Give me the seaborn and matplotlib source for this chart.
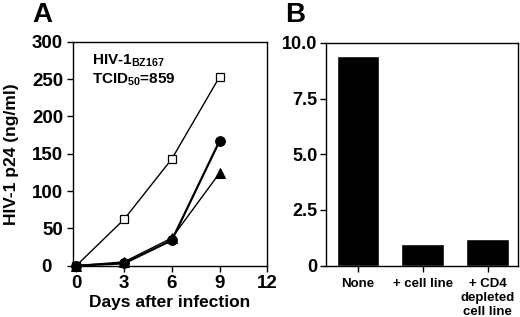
import pandas as pd
import matplotlib
matplotlib.use("Agg")
import matplotlib.pyplot as plt
import seaborn as sns

# Panel A: p24 over time
days = [0, 3, 6, 9]
p24_square = [0, 62, 143, 253]
p24_circle = [0, 3, 34, 167]
p24_triangle = [0, 5, 37, 124]
a_yticks = [0, 50, 100, 150, 200, 250, 300]
a_yticklabels = ['0  ', '50', '100', '150', '200', '250', '300']

# Panel B: bars
conditions = ['None', '+ cell line', '+ CD4\ndepleted\ncell line']
bar_values = [9.4, 0.95, 1.2]
b_yticks = [0, 2.5, 5.0, 7.5, 10.0]
b_yticklabels = ['0', '2.5', '5.0', '7.5', '10.0']

sns.set_theme(style="white")
plt.rcParams['font.family'] = ['Liberation Sans', 'DejaVu Sans']
plt.rcParams['font.weight'] = 'bold'
plt.rcParams['text.color'] = 'black'
plt.rcParams['axes.labelcolor'] = 'black'
plt.rcParams['mathtext.fontset'] = 'custom'
plt.rcParams['mathtext.rm'] = 'Liberation Sans:bold'
plt.rcParams['mathtext.bf'] = 'Liberation Sans:bold'
plt.rcParams['mathtext.default'] = 'bf'

fig = plt.figure(figsize=(5.2, 3.17), dpi=100)
ax1 = fig.add_axes([0.140, 0.162, 0.374, 0.706])
ax2 = fig.add_axes([0.627, 0.162, 0.369, 0.703])

df = pd.DataFrame({'day': days, 'sq': p24_square, 'ci': p24_circle, 'tr': p24_triangle})

sns.lineplot(ax=ax1, data=df, x='day', y='sq', color='black', linewidth=1.0,
             marker='s', markersize=6, markerfacecolor='white',
             markeredgecolor='black', markeredgewidth=0.9, clip_on=False)
sns.lineplot(ax=ax1, data=df, x='day', y='tr', color='black', linewidth=1.0,
             marker='^', markersize=7, markeredgecolor='black', clip_on=False)
sns.lineplot(ax=ax1, data=df, x='day', y='ci', color='black', linewidth=1.6,
             marker='o', markersize=7, markeredgecolor='black', clip_on=False)

ax1.set_xlim(-0.22, 12)
ax1.set_ylim(0, 300)
ax1.set_xticks([0, 3, 6, 9, 12])
ax1.set_yticks(a_yticks)
ax1.set_yticklabels(a_yticklabels)
ax1.set_xlabel('Days after infection', fontsize=12.5, fontweight='bold', labelpad=2)
ax1.set_ylabel('HIV-1 p24 (ng/ml)', fontsize=12.5, fontweight='bold', labelpad=9)
ax1.tick_params(axis='both', labelsize=13.5, direction='out', length=4, width=1,
                colors='black', pad=3, bottom=True, left=True)
ax1.text(0.10, 0.95, 'HIV-1$_{BZ167}$', transform=ax1.transAxes,
         fontsize=11, fontweight='bold', va='top')
ax1.text(0.10, 0.865, 'TCID$_{50}$=859', transform=ax1.transAxes,
         fontsize=11, fontweight='bold', va='top')

dfb = pd.DataFrame({'cond': conditions, 'val': bar_values})
sns.barplot(ax=ax2, data=dfb, x='cond', y='val', color='black', width=0.66,
            saturation=1)
ax2.set_xlim(-0.495, 2.47)
ax2.set_ylim(0, 10)
ax2.set_yticks(b_yticks)
ax2.set_yticklabels(b_yticklabels)
ax2.set_xlabel('')
ax2.set_ylabel('')
ax2.tick_params(axis='y', labelsize=13, direction='out', length=4, width=1,
                colors='black', pad=2, left=True)
ax2.tick_params(axis='x', labelsize=9.5, direction='out', length=4, width=1,
                colors='black', pad=5, bottom=True)
for lab in ax2.get_xticklabels():
    lab.set_fontweight('bold')
    lab.set_linespacing(1.2)

for ax in (ax1, ax2):
    for sp in ax.spines.values():
        sp.set_color('black')
        sp.set_linewidth(1.0)
    for lab in ax.get_yticklabels() + ax.get_xticklabels():
        lab.set_fontweight('bold')

fig.text(0.062, 0.995, 'A', fontsize=20, fontweight='bold', va='top', ha='left')
fig.text(0.548, 0.995, 'B', fontsize=20, fontweight='bold', va='top', ha='left')

fig.savefig('out.png', dpi=100)
